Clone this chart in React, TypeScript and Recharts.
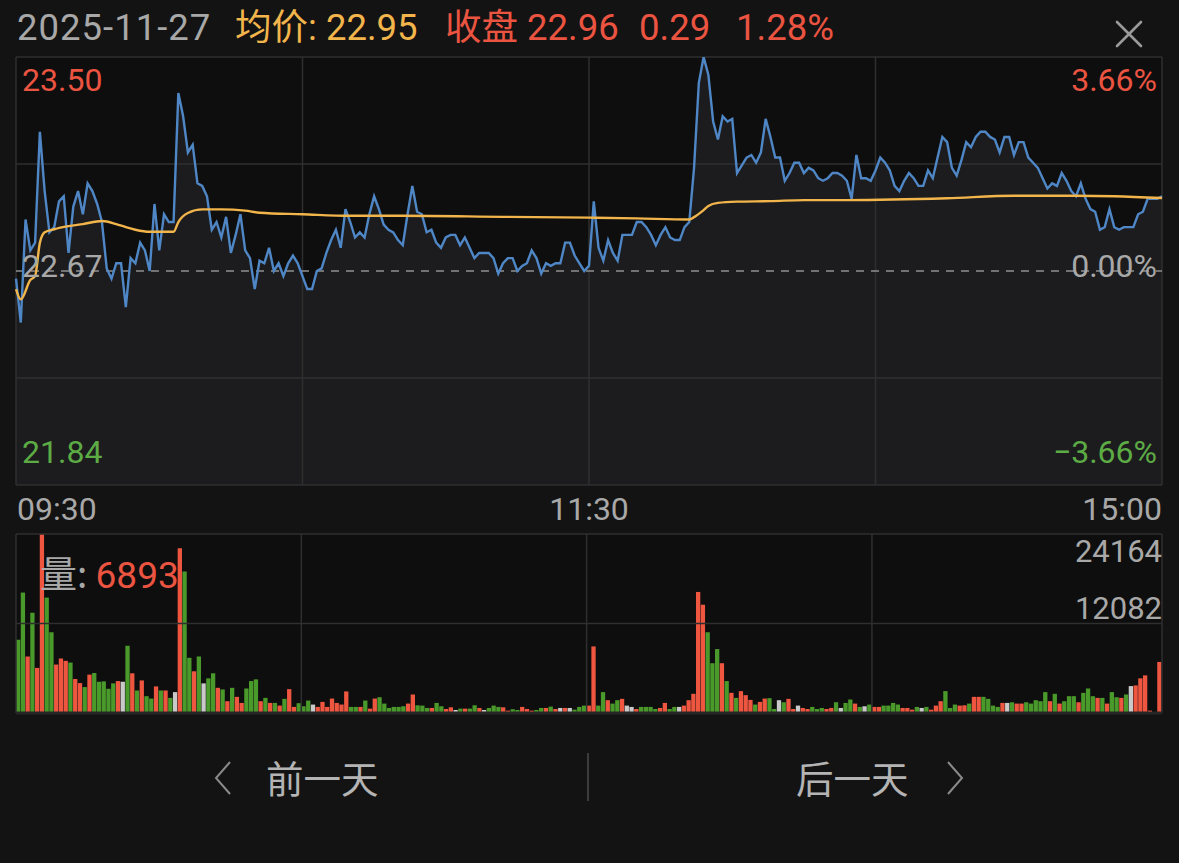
import React from "react";
import {
  Area,
  Bar,
  CartesianGrid,
  Cell,
  ComposedChart,
  Line,
  ReferenceLine,
  XAxis,
  YAxis,
} from "recharts";

const PRE_CLOSE = 22.67;
const PRICE_TOP = 23.5;
const PRICE_BOTTOM = 21.84;
const VOL_MAX = 24164;

// one close per minute: 09:30..11:30 then 13:01..15:00
const prices = [
  22.64, 22.47, 22.87, 22.75, 22.78, 23.21, 22.98, 22.82, 22.84, 22.94,
  22.96, 22.74, 22.92, 22.98, 22.89, 23.01, 22.98, 22.93, 22.86, 22.68,
  22.64, 22.7, 22.7, 22.53, 22.72, 22.7, 22.78, 22.75, 22.67, 22.93,
  22.75, 22.89, 22.86, 22.86, 23.36, 23.27, 23.13, 23.16, 23.01, 23.0,
  22.96, 22.83, 22.86, 22.8, 22.88, 22.74, 22.81, 22.89, 22.75, 22.72,
  22.6, 22.71, 22.7, 22.76, 22.67, 22.7, 22.65, 22.7, 22.73, 22.7,
  22.65, 22.6, 22.6, 22.67, 22.68, 22.74, 22.79, 22.83, 22.76, 22.91,
  22.86, 22.8, 22.82, 22.8, 22.89, 22.96, 22.91, 22.85, 22.83, 22.82,
  22.79, 22.77, 22.89, 23.0, 22.9, 22.89, 22.82, 22.83, 22.78, 22.76,
  22.8, 22.81, 22.81, 22.77, 22.8, 22.76, 22.72, 22.74, 22.74, 22.74,
  22.72, 22.66, 22.7, 22.72, 22.72, 22.67, 22.69, 22.7, 22.75, 22.72,
  22.66, 22.7, 22.69, 22.7, 22.7, 22.78, 22.78, 22.73, 22.7, 22.67,
  22.69, 22.94, 22.76, 22.71, 22.79, 22.74, 22.71, 22.81, 22.81, 22.81,
  22.86, 22.86, 22.84, 22.81, 22.77, 22.81, 22.84, 22.8, 22.79, 22.79,
  22.84, 22.86, 23.07, 23.4, 23.5, 23.43, 23.25, 23.18, 23.27, 23.25,
  23.26, 23.05, 23.08, 23.11, 23.12, 23.09, 23.13, 23.26, 23.19, 23.11,
  23.11, 23.02, 23.05, 23.09, 23.09, 23.05, 23.07, 23.06, 23.03, 23.02,
  23.03, 23.05, 23.05, 23.04, 23.02, 22.95, 23.12, 23.03, 23.03, 23.02,
  23.06, 23.11, 23.09, 23.06, 23.0, 22.98, 23.02, 23.05, 23.03, 23.0,
  23.0, 23.06, 23.03, 23.11, 23.19, 23.17, 23.07, 23.04, 23.1, 23.17,
  23.15, 23.19, 23.21, 23.21, 23.19, 23.18, 23.13, 23.19, 23.19, 23.12,
  23.17, 23.17, 23.11, 23.09, 23.07, 23.03, 22.99, 23.01, 23.0, 23.05,
  23.02, 22.98, 22.96, 23.01, 22.95, 22.91, 22.9, 22.83, 22.84, 22.91,
  22.84, 22.83, 22.84, 22.84, 22.84, 22.89, 22.9, 22.95, 22.95, 22.95,
  22.96,
];

// average price, read at the minutes where its curve bends
const avgMinutes = [
  0, 1, 3, 4, 5, 6, 8, 11, 14, 18, 21, 23, 25, 28, 33, 34, 36, 39, 43, 48,
  51, 60, 70, 81, 102, 120, 130, 141, 142, 144, 145, 147, 151, 158, 165, 174,
  195, 209, 222, 230, 240,
];
const avgPrices = [
  22.6, 22.56, 22.635, 22.65, 22.78, 22.82, 22.832, 22.844, 22.852, 22.864,
  22.852, 22.84, 22.83, 22.822, 22.822, 22.86, 22.895, 22.909, 22.909, 22.904,
  22.896, 22.89, 22.884, 22.884, 22.88, 22.877, 22.874, 22.87, 22.879, 22.906,
  22.922, 22.934, 22.939, 22.941, 22.945, 22.945, 22.952, 22.962, 22.962, 22.96,
  22.953,
];

const volumes = [
  9900, 16260, 7630, 13530, 6090, 24164, 15580, 10900, 6540, 7360,
  7040, 6810, 4590, 4040, 3500, 5180, 5400, 4220, 4270, 3270,
  4000, 4310, 4220, 9080, 5360, 3040, 4400, 2270, 1950, 3590,
  3040, 3040, 2040, 2820, 22250, 19110, 7450, 5630, 7630, 4000,
  4680, 5360, 3400, 3180, 1590, 3400, 2180, 1360, 3310, 4310,
  4540, 1590, 2040, 1360, 1360, 1000, 1910, 3220, 820, 1320,
  910, 1680, 1140, 820, 1500, 820, 1950, 1360, 1140, 2910,
  820, 820, 820, 1680, 590, 1950, 2130, 1270, 680, 820,
  820, 910, 1270, 2500, 1040, 1000, 680, 680, 1360, 910,
  540, 770, 410, 590, 590, 590, 1040, 680, 410, 680,
  1000, 820, 770, 320, 500, 410, 820, 540, 320, 410,
  680, 680, 860, 540, 680, 680, 680, 450, 820, 1000,
  1000, 8990, 1000, 2820, 1730, 1270, 1730, 1910, 1000, 820,
  540, 820, 820, 820, 540, 680, 1360, 540, 820, 820,
  1000, 1730, 2590, 16340, 14620, 10900, 6720, 8630, 6720, 4310,
  2720, 2040, 2950, 2410, 1770, 1140, 1500, 1950, 2000, 540,
  1730, 1450, 1910, 540, 1000, 680, 540, 820, 540, 680,
  540, 680, 1450, 680, 1360, 1820, 1270, 820, 910, 1140,
  820, 820, 1000, 1000, 1360, 1140, 680, 680, 450, 820,
  680, 820, 450, 1000, 1590, 2950, 680, 1140, 1000, 1040,
  1270, 2180, 2180, 2180, 1910, 1000, 820, 1360, 1360, 1450,
  1270, 1270, 1450, 1270, 1730, 1590, 2820, 1590, 2590, 1270,
  1590, 2270, 2270, 1450, 2720, 3310, 2270, 2040, 2040, 1270,
  2820, 2130, 2040, 2500, 3630, 3720, 4680, 5080, 320, 0,
  6893,
];

// r = up, g = down, w = unchanged
const volDirs = (
  "ggrgrrggrr" + "rgrrgrgggg" + "grwgrgrggr" + "grgwrggrgw" + "ggrgrgrrgg" +
  "grgrgrgrrg" + "ggwrrrrrrr" + "ggrgrrgggg" + "ggrrgggrgg" + "rrwgrggrwg" +
  "ggrrggrrrg" + "grgrwrwggg" + "rrggrggrww" + "rggggrrggw" + "rrrrrgggrg" +
  "rgrrrgrrgg" + "wgrrwrrggg" + "rrgwggrgwg" + "rrggggrrrg" + "wgrrrgggrr" +
  "grrggggrwg" + "rrgggggrgr" + "gggrgggrgr" + "ggrgwrrrrr" + "r"
).split("");

const timeMinutes = [0, 120, 240];
const timeLabels = ["09:30", "11:30", "15:00"];

const FONT = "Roboto, 'Noto Sans CJK SC', sans-serif";
const BG = "#131313";
const PLOT_BG = "#0e0e0e";
const AREA_FILL = "#1c1c1e";
const GRID = "#2f2f2f";
const RED = "#eb5441";
const GREEN = "#5cab45";
const GRAY = "#a8a8a8";
const YELLOW = "#f2b54b";
const BLUE = "#4f87c6";
const BAR_COLORS: Record<string, string> = { r: "#ee5640", g: "#4a9a2b", w: "#c9c9c9" };

const priceData = prices.map((p, i) => ({ i, p }));
const avgData = avgMinutes.map((i, k) => ({ i, a: avgPrices[k] }));
const volData = volumes.map((v, i) => ({ t: i + 0.5, v, d: volDirs[i] }));

function pct(v: number) {
  const x = ((v - PRE_CLOSE) / PRE_CLOSE) * 100;
  return `${x < 0 ? "\u2212" : ""}${Math.abs(x).toFixed(2)}%`;
}

function priceColor(v: number) {
  if (v > PRE_CLOSE + 1e-9) return RED;
  if (v < PRE_CLOSE - 1e-9) return GREEN;
  return GRAY;
}

function labelShift(v: number) {
  if (v >= PRICE_TOP) return 23;
  if (v <= PRICE_BOTTOM) return -33;
  return -5;
}

function PriceTick(props: any) {
  const v = Number(props.payload.value);
  return (
    <text x={22} y={props.y + labelShift(v)} dominantBaseline="central" textAnchor="start"
      fill={priceColor(v)} fontSize={32} fontFamily={FONT}>
      {v.toFixed(2)}
    </text>
  );
}

function PctTick(props: any) {
  const v = Number(props.payload.value);
  return (
    <text x={1157} y={props.y + labelShift(v)} dominantBaseline="central" textAnchor="end"
      fill={priceColor(v)} fontSize={32} fontFamily={FONT}>
      {pct(v)}
    </text>
  );
}

function TimeTick(props: any) {
  const k = timeMinutes.indexOf(Number(props.payload.value));
  const anchor = k === 0 ? "start" : k === timeMinutes.length - 1 ? "end" : "middle";
  const dx = k === 0 ? 1 : 0;
  return (
    <text x={props.x + dx} y={509} dominantBaseline="central" textAnchor={anchor}
      fill={GRAY} fontSize={32} fontFamily={FONT}>
      {timeLabels[k]}
    </text>
  );
}

function VolTick(props: any) {
  const v = Number(props.payload.value);
  const dy = v >= VOL_MAX ? 17 : -15;
  return (
    <text x={1162} y={props.y + dy} dominantBaseline="central" textAnchor="end"
      fill={GRAY} fontSize={31} fontFamily={FONT}>
      {v}
    </text>
  );
}

const headerText: React.CSSProperties = {
  position: "absolute",
  top: 7,
  fontSize: 36.5,
  lineHeight: "42px",
  whiteSpace: "nowrap",
  fontFamily: FONT,
};

const navText: React.CSSProperties = {
  position: "absolute",
  top: 754,
  fontSize: 37.5,
  lineHeight: "46px",
  color: "#b4b4b4",
  fontFamily: "'Noto Sans CJK SC', sans-serif",
  whiteSpace: "nowrap",
};

export default function App() {
  const q1 = PRICE_BOTTOM + (PRICE_TOP - PRICE_BOTTOM) * 0.25;
  const q3 = PRICE_BOTTOM + (PRICE_TOP - PRICE_BOTTOM) * 0.75;
  return (
    <div style={{ position: "fixed", left: 0, top: 0, width: 1179, height: 863, background: BG, overflow: "hidden", fontFamily: FONT }}>
      <div style={{ ...headerText, left: 17, color: GRAY, letterSpacing: 1 }}>2025-11-27</div>
      <div style={{ ...headerText, left: 235, color: YELLOW }}>均价: 22.95</div>
      <div style={{ ...headerText, left: 445, color: RED }}>收盘 22.96</div>
      <div style={{ ...headerText, left: 639, color: RED }}>0.29</div>
      <div style={{ ...headerText, left: 736, color: RED }}>1.28%</div>
      <svg width={40} height={40} style={{ position: "absolute", left: 1109, top: 14 }}>
        <path d="M8 8 L32 32 M32 8 L8 32" stroke="#9a9a9a" strokeWidth={2.6} strokeLinecap="round" />
      </svg>

      <div style={{ position: "absolute", left: 0, top: 0 }}>
        <ComposedChart width={1179} height={530} data={priceData} margin={{ top: 57, right: 17, bottom: 0, left: 16 }}>
          <CartesianGrid horizontal={false} vertical={false} fill={PLOT_BG} />
          <XAxis type="number" dataKey="i" domain={[0, 240]} ticks={timeMinutes} interval={0}
            axisLine={false} tickLine={false} height={45} tick={TimeTick} />
          <YAxis yAxisId="price" domain={[PRICE_BOTTOM, PRICE_TOP]} allowDataOverflow
            ticks={[PRICE_BOTTOM, PRE_CLOSE, PRICE_TOP]} interval={0} mirror
            axisLine={false} tickLine={false} tick={PriceTick} />
          <YAxis yAxisId="pct" orientation="right" domain={[PRICE_BOTTOM, PRICE_TOP]} allowDataOverflow
            ticks={[PRICE_BOTTOM, PRE_CLOSE, PRICE_TOP]} interval={0} mirror
            axisLine={false} tickLine={false} tick={PctTick} />
          <Area yAxisId="price" type="linear" dataKey="p" stroke="none" fill={AREA_FILL} fillOpacity={1}
            baseValue={PRICE_BOTTOM} isAnimationActive={false} />
          <ReferenceLine yAxisId="price" y={PRICE_TOP} stroke={GRID} strokeWidth={1.5} />
          <ReferenceLine yAxisId="price" y={q3} stroke={GRID} strokeWidth={1.5} />
          <ReferenceLine yAxisId="price" y={q1} stroke={GRID} strokeWidth={1.5} />
          <ReferenceLine yAxisId="price" y={PRICE_BOTTOM} stroke={GRID} strokeWidth={1.5} />
          <ReferenceLine yAxisId="price" x={0} stroke={GRID} strokeWidth={1.5} />
          <ReferenceLine yAxisId="price" x={60} stroke={GRID} strokeWidth={1.5} />
          <ReferenceLine yAxisId="price" x={120} stroke={GRID} strokeWidth={1.5} />
          <ReferenceLine yAxisId="price" x={180} stroke={GRID} strokeWidth={1.5} />
          <ReferenceLine yAxisId="price" x={240} stroke={GRID} strokeWidth={1.5} />
          <ReferenceLine yAxisId="price" y={PRE_CLOSE} stroke="#8e8e8e" strokeWidth={1.5} strokeDasharray="8 7" />
          <Line yAxisId="price" type="linear" dataKey="p" stroke={BLUE} strokeWidth={2.4} dot={false}
            activeDot={false} isAnimationActive={false} />
          <Line yAxisId="price" data={avgData} type="monotone" dataKey="a" stroke={YELLOW} strokeWidth={2.4}
            dot={false} activeDot={false} isAnimationActive={false} />
        </ComposedChart>
      </div>

      <div style={{ position: "absolute", left: 0, top: 520 }}>
        <ComposedChart width={1179} height={200} data={volData} margin={{ top: 14, right: 17, bottom: 7, left: 16 }}>
          <CartesianGrid horizontal={false} vertical={false} fill={PLOT_BG} />
          <XAxis type="number" dataKey="t" domain={[0, 241]} hide />
          <YAxis orientation="right" domain={[0, VOL_MAX]} allowDataOverflow ticks={[VOL_MAX / 2, VOL_MAX]}
            interval={0} mirror axisLine={false} tickLine={false} tick={VolTick} />
          <ReferenceLine y={VOL_MAX} stroke={GRID} strokeWidth={1.5} />
          <ReferenceLine y={VOL_MAX / 2} stroke={GRID} strokeWidth={1.5} />
          <ReferenceLine x={0} stroke={GRID} strokeWidth={1.5} />
          <ReferenceLine x={60} stroke={GRID} strokeWidth={1.5} />
          <ReferenceLine x={120} stroke={GRID} strokeWidth={1.5} />
          <ReferenceLine x={180} stroke={GRID} strokeWidth={1.5} />
          <ReferenceLine x={241} stroke={GRID} strokeWidth={1.5} />
          <Bar dataKey="v" barSize={4.3} isAnimationActive={false}>
            {volData.map((d) => (
              <Cell key={d.t} fill={BAR_COLORS[d.d]} />
            ))}
          </Bar>
          <ReferenceLine y={0} stroke="#262626" strokeWidth={3} />
        </ComposedChart>
      </div>

      <div style={{ position: "absolute", left: 40, top: 550, fontSize: 37, lineHeight: "44px", whiteSpace: "nowrap" }}>
        <span style={{ color: GRAY, fontFamily: "'Noto Sans CJK SC', sans-serif" }}>量: </span>
        <span style={{ color: RED }}>{volumes[volumes.length - 1]}</span>
      </div>

      <svg width={30} height={40} style={{ position: "absolute", left: 208, top: 758 }}>
        <path d="M22 4 L8 20 L22 36" fill="none" stroke="#8a8a8a" strokeWidth={2} />
      </svg>
      <div style={{ ...navText, left: 266 }}>前一天</div>
      <div style={{ position: "absolute", left: 587, top: 753, width: 2, height: 48, background: "#3c3c3c" }} />
      <div style={{ ...navText, left: 796 }}>后一天</div>
      <svg width={30} height={40} style={{ position: "absolute", left: 940, top: 758 }}>
        <path d="M8 4 L22 20 L8 36" fill="none" stroke="#8a8a8a" strokeWidth={2} />
      </svg>
    </div>
  );
}
